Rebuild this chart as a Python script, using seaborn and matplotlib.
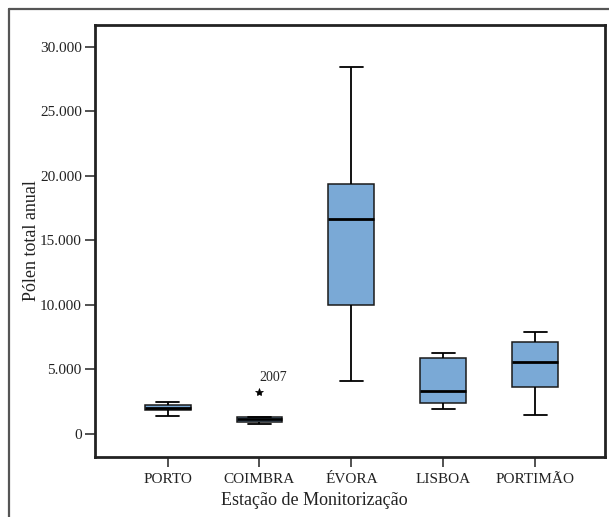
import matplotlib
matplotlib.use("Agg")
import matplotlib.pyplot as plt
from matplotlib.lines import Line2D
import seaborn as sns
import pandas as pd

# annual pollen totals (min, Q1, median, Q3, max)
stations = ["PORTO", "COIMBRA", "ÉVORA", "LISBOA", "PORTIMÃO"]
porto = [1390, 1840, 2040, 2220, 2470]
coimbra = [810, 906, 906, 1140, 1140, 1290, 1290, 1320, 3280]
evora = [4130, 9970, 16650, 19370, 28450]
lisboa = [1960, 2420, 3300, 5860, 6300]
portimao = [1470, 3660, 5600, 7150, 7900]
outlier_label = "2007"

y_ticks = [0, 5000, 10000, 15000, 20000, 25000, 30000]
y_tick_labels = ["0", "5.000", "10.000", "15.000", "20.000", "25.000", "30.000"]

rows = []
for name, values in zip(stations, [porto, coimbra, evora, lisboa, portimao]):
    for v in values:
        rows.append({"estacao": name, "polen": v})
df = pd.DataFrame(rows)

sns.set_style("ticks")
plt.rcParams["font.family"] = ["Liberation Serif", "DejaVu Serif"]

fig = plt.figure(figsize=(6.09, 5.17), dpi=100)
W, H = 609, 517
ax = fig.add_axes([95 / W, (H - 457) / H, (605 - 95) / W, (457 - 25) / H])

sns.boxplot(data=df, x="estacao", y="polen", order=stations, ax=ax,
            color="#7aa9d6", saturation=1, width=0.5, whis=1.5,
            linecolor="#1a1a1a", linewidth=1.1,
            medianprops={"linewidth": 2, "color": "black"},
            whiskerprops={"linewidth": 1.3, "color": "black"},
            capprops={"linewidth": 1.3, "color": "black"},
            flierprops={"marker": "*", "markersize": 6, "markerfacecolor": "black",
                        "markeredgecolor": "black", "markeredgewidth": 0.5})

# label the extreme value of Coimbra with its year
ax.annotate(outlier_label, xy=(stations.index("COIMBRA"), max(coimbra)),
            xytext=(0, 10), textcoords="offset points", ha="left", va="center",
            fontsize=10)

ax.set_xlim(-0.79, 4.76)
ax.set_ylim(-1780, 31680)
ax.set_yticks(y_ticks)
ax.set_yticklabels(y_tick_labels)
ax.tick_params(axis="both", direction="out", length=7.5, width=1.2, color="#333333",
               labelsize=11, labelcolor="#222222", pad=2)
ax.tick_params(axis="x", pad=4)
for side in ["left", "right", "top", "bottom"]:
    ax.spines[side].set_visible(True)
    ax.spines[side].set_linewidth(2)
    ax.spines[side].set_color("#222222")

ax.set_xlabel("Estação de Monitorização", fontsize=13, color="#222222")
ax.set_ylabel("Pólen total anual", fontsize=13, color="#222222")
ax.xaxis.set_label_coords(0.43, -0.082)
ax.yaxis.set_label_coords(-0.108, 0.5)

# outer frame of the original export
fig.add_artist(Line2D([8.5 / W, 8.5 / W], [0, (H - 9) / H], transform=fig.transFigure,
                      color="#555555", linewidth=1.6))
fig.add_artist(Line2D([8.5 / W, 1], [(H - 9) / H, (H - 9) / H], transform=fig.transFigure,
                      color="#555555", linewidth=1.6))

fig.savefig("out.png", dpi=100)
